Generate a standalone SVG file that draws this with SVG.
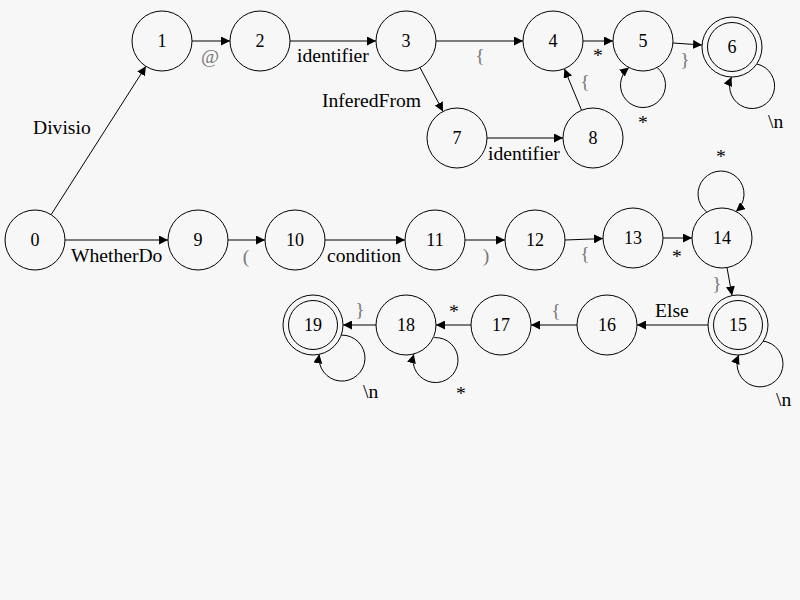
<svg xmlns="http://www.w3.org/2000/svg" width="800" height="600" viewBox="0 0 800 600">
  <defs>
    <marker id="arrow" viewBox="0 0 10 10" refX="10" refY="5" markerWidth="9" markerHeight="9" markerUnits="userSpaceOnUse" orient="auto">
      <path d="M0,0 L10,5 L0,10 Z" fill="#000"/>
    </marker>
  </defs>
  <style>
    .bg { fill: #f7f7f7; }
    .state { fill: #f7f7f7; stroke: #000; stroke-width: 1; }
    text { font-family: 'Liberation Serif', 'DejaVu Serif', serif; }
    .num { font-size: 18px; fill: #000; text-anchor: middle; }
    .edge { fill: none; stroke: #000; stroke-width: 1; marker-end: url(#arrow); }
    .lbl { font-size: 19.6px; fill: #000; }
    .sym { font-size: 19.6px; fill: #777; text-anchor: middle; }
    .mid { text-anchor: middle; }
  </style>

  <rect class="bg" x="0" y="0" width="800" height="600"/>

  <!-- transitions -->
  <g id="connectors">
    <path class="edge" d="M51.1,214.7 L145.9,66.3"/>
    <path class="edge" d="M192,41 L230,41"/>
    <path class="edge" d="M290,41 L376,41"/>
    <path class="edge" d="M436,41 L523,41"/>
    <path class="edge" d="M583,41 L613,41"/>
    <path class="edge" d="M673,43 L702,45"/>
    <path class="edge" d="M420,67.5 L443,111.4"/>
    <path class="edge" d="M487,138 L563,138"/>
    <path class="edge" d="M581.6,110.3 L564.4,68.8"/>
    <path class="edge" d="M65,240 L168,240"/>
    <path class="edge" d="M228,240 L265,240"/>
    <path class="edge" d="M325,240 L405,240"/>
    <path class="edge" d="M465,240 L505,240"/>
    <path class="edge" d="M565,240 L603,238.6"/>
    <path class="edge" d="M663,238 L692,238"/>
    <path class="edge" d="M727,267.6 L732,295.4"/>
    <path class="edge" d="M708,325 L637,325"/>
    <path class="edge" d="M577,325 L531,325"/>
    <path class="edge" d="M471,325 L436,325"/>
    <path class="edge" d="M376,325 L343,325"/>
    <!-- self loops -->
    <path class="edge" d="M657.1,67.5 A22.5,22.5 0 1 1 628.9,67.5"/>
    <path class="edge" d="M756.7,64 A22.5,22.5 0 1 1 731.5,77"/>
    <path class="edge" d="M706.8,212.1 A23,23 0 1 1 736,211.5"/>
    <path class="edge" d="M762.4,341 A23,23 0 1 1 738.8,355"/>
    <path class="edge" d="M434.2,337.6 A22.5,22.5 0 1 1 413.8,354.2"/>
    <path class="edge" d="M341.3,335.1 A23,23 0 1 1 319.3,354.3"/>

    <!-- transition labels -->
    <text class="lbl" x="33" y="134">Divisio</text>
    <text class="sym" x="210" y="63">@</text>
    <text class="lbl" x="297" y="62">identifier</text>
    <text class="sym" x="480" y="62">{</text>
    <text class="lbl mid" x="598" y="62">*</text>
    <text class="sym" x="685" y="66">}</text>
    <text class="lbl mid" x="643" y="129">*</text>
    <text class="lbl" x="768" y="128">\n</text>
    <text class="lbl" x="322" y="107">InferedFrom</text>
    <text class="lbl" x="488" y="160">identifier</text>
    <text class="sym" x="585" y="88">{</text>
    <text class="lbl" x="71" y="262">WhetherDo</text>
    <text class="sym" x="246" y="263">(</text>
    <text class="lbl" x="327" y="262">condition</text>
    <text class="sym" x="486" y="262">)</text>
    <text class="sym" x="585" y="260">{</text>
    <text class="lbl mid" x="677" y="263">*</text>
    <text class="lbl mid" x="721" y="163">*</text>
    <text class="sym" x="717" y="290">}</text>
    <text class="lbl" x="655" y="317">Else</text>
    <text class="lbl" x="776" y="406">\n</text>
    <text class="sym" x="556" y="317">{</text>
    <text class="lbl mid" x="454" y="318">*</text>
    <text class="sym" x="360" y="316">}</text>
    <text class="lbl mid" x="461" y="400">*</text>
    <text class="lbl" x="363" y="398">\n</text>
  </g>

  <!-- states -->
  <g id="s0"><circle class="state" cx="35" cy="240" r="30"/><text class="num" x="35" y="246">0</text></g>
  <g id="s1"><circle class="state" cx="162" cy="41" r="30"/><text class="num" x="162" y="47">1</text></g>
  <g id="s2"><circle class="state" cx="260" cy="41" r="30"/><text class="num" x="260" y="47">2</text></g>
  <g id="s3"><circle class="state" cx="406" cy="41" r="30"/><text class="num" x="406" y="47">3</text></g>
  <g id="s4"><circle class="state" cx="553" cy="41" r="30"/><text class="num" x="553" y="47">4</text></g>
  <g id="s5"><circle class="state" cx="643" cy="41" r="30"/><text class="num" x="643" y="47">5</text></g>
  <g id="s6"><circle class="state" cx="732" cy="47" r="30"/><circle class="state" cx="732" cy="47" r="24.5"/><text class="num" x="732" y="53">6</text></g>
  <g id="s7"><circle class="state" cx="457" cy="138" r="30"/><text class="num" x="457" y="144">7</text></g>
  <g id="s8"><circle class="state" cx="593" cy="138" r="30"/><text class="num" x="593" y="144">8</text></g>
  <g id="s9"><circle class="state" cx="198" cy="240" r="30"/><text class="num" x="198" y="246">9</text></g>
  <g id="s10"><circle class="state" cx="295" cy="240" r="30"/><text class="num" x="295" y="246">10</text></g>
  <g id="s11"><circle class="state" cx="435" cy="240" r="30"/><text class="num" x="435" y="246">11</text></g>
  <g id="s12"><circle class="state" cx="535" cy="240" r="30"/><text class="num" x="535" y="246">12</text></g>
  <g id="s13"><circle class="state" cx="633" cy="238" r="30"/><text class="num" x="633" y="244">13</text></g>
  <g id="s14"><circle class="state" cx="722" cy="238" r="30"/><text class="num" x="722" y="244">14</text></g>
  <g id="s15"><circle class="state" cx="738" cy="325" r="30"/><circle class="state" cx="738" cy="325" r="24.5"/><text class="num" x="738" y="331">15</text></g>
  <g id="s16"><circle class="state" cx="607" cy="325" r="30"/><text class="num" x="607" y="331">16</text></g>
  <g id="s17"><circle class="state" cx="501" cy="325" r="30"/><text class="num" x="501" y="331">17</text></g>
  <g id="s18"><circle class="state" cx="406" cy="325" r="30"/><text class="num" x="406" y="331">18</text></g>
  <g id="s19"><circle class="state" cx="313" cy="325" r="30"/><circle class="state" cx="313" cy="325" r="24.5"/><text class="num" x="313" y="331">19</text></g>
</svg>
